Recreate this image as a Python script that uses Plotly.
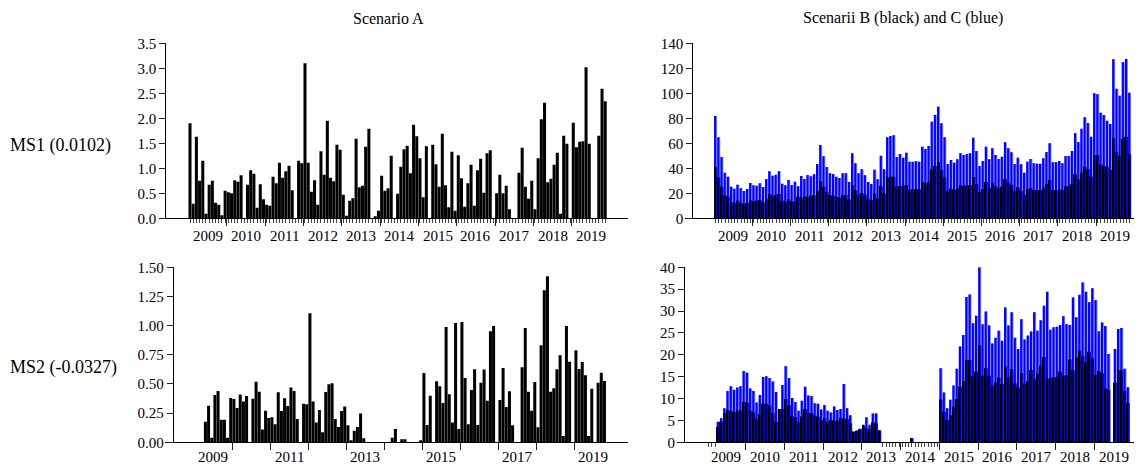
import plotly.graph_objects as go

# ---------------- data (monthly, Jan 2009 .. Nov 2019, index 0..130) ----------------
years = list(range(2009, 2020))

ms1_A = [1.90, 0.29, 1.63, 0.75, 1.15, 0.09, 0.67, 0.75, 0.31, 0.27, 0.06, 0.55,
         0.52, 0.50, 0.76, 0.73, 0.86, 0.00, 0.67, 0.96, 0.89, 0.21, 0.68, 0.38,
         0.27, 0.25, 0.83, 0.70, 1.11, 0.81, 0.94, 1.05, 0.56, 0.00, 1.15, 1.10,
         3.10, 1.11, 0.53, 0.76, 0.27, 1.34, 0.87, 1.95, 0.81, 0.74, 1.47, 1.37,
         0.47, 0.05, 0.35, 0.40, 1.59, 0.62, 0.65, 1.43, 1.79, 0.00, 0.04, 0.15,
         0.85, 0.55, 0.60, 1.25, 0.00, 0.49, 1.03, 1.38, 1.45, 0.90, 1.87, 1.64,
         1.20, 0.42, 1.44, 0.00, 1.47, 1.08, 0.63, 1.69, 0.66, 0.22, 1.33, 0.15,
         1.26, 0.80, 0.23, 0.70, 1.07, 0.25, 0.96, 1.19, 0.51, 1.30, 1.36, 0.00,
         0.50, 0.87, 0.50, 0.65, 0.18, 0.00, 0.00, 0.91, 1.41, 0.63, 0.39, 0.75,
         0.18, 1.20, 1.98, 2.31, 0.72, 0.79, 1.07, 1.31, 0.09, 1.65, 1.49, 0.00,
         1.91, 1.42, 1.53, 1.54, 3.02, 1.49, 0.00, 0.00, 1.65, 2.59, 2.34]

ms1_C = [81.9, 64.8, 49.1, 36.5, 33.3, 25.3, 23.7, 26.9, 24.0, 21.9, 23.5, 28.3,
         26.4, 26.1, 28.0, 25.1, 31.5, 37.6, 34.1, 34.9, 37.6, 27.7, 26.4, 30.7,
         26.7, 29.3, 25.6, 33.9, 31.5, 34.7, 33.6, 35.2, 43.5, 58.7, 49.6, 41.1,
         36.0, 35.5, 33.3, 32.3, 36.0, 36.0, 29.1, 52.0, 44.0, 36.0, 39.2, 34.4,
         29.1, 27.5, 38.9, 31.2, 50.1, 39.2, 64.8, 65.9, 66.4, 49.1, 51.5, 48.5,
         52.5, 45.3, 45.3, 45.6, 45.3, 57.3, 55.5, 57.9, 77.3, 82.7, 89.3, 76.0,
         64.8, 43.5, 46.7, 44.5, 47.2, 52.0, 50.7, 51.5, 52.0, 64.5, 53.9, 41.9,
         45.9, 57.3, 47.2, 56.0, 50.7, 47.5, 49.3, 60.8, 56.0, 52.8, 43.5, 48.5,
         43.2, 36.5, 45.3, 47.5, 44.0, 43.7, 43.7, 48.0, 53.1, 60.0, 44.8, 44.8,
         45.9, 44.0, 49.9, 49.9, 53.9, 68.0, 61.1, 71.7, 80.8, 76.3, 65.3, 100.0,
         99.2, 84.5, 82.7, 78.1, 75.5, 127.2, 103.7, 98.1, 124.8, 127.5, 100.5]

ms1_B = [41.3, 32.8, 25.3, 18.7, 17.3, 13.1, 12.5, 14.1, 12.5, 11.5, 12.3, 14.7,
         13.6, 14.1, 14.7, 12.8, 15.7, 19.5, 18.1, 18.7, 19.5, 14.1, 13.6, 15.2,
         13.6, 13.1, 17.3, 16.5, 17.9, 17.3, 18.1, 18.4, 22.1, 29.9, 25.3, 21.1,
         18.7, 18.1, 17.3, 16.5, 18.4, 18.7, 15.2, 26.4, 22.4, 18.9, 20.3, 18.9,
         15.7, 14.7, 20.0, 15.7, 25.6, 20.0, 32.8, 33.3, 33.3, 25.3, 25.9, 26.4,
         26.7, 22.9, 23.2, 23.2, 23.2, 29.1, 28.0, 29.1, 39.2, 41.9, 45.1, 38.7,
         32.8, 21.6, 23.7, 22.9, 24.0, 26.4, 25.9, 26.4, 26.4, 33.1, 27.5, 21.3,
         23.2, 29.1, 24.3, 28.5, 25.9, 24.3, 25.3, 31.2, 28.5, 26.9, 22.1, 24.8,
         22.1, 18.7, 23.5, 24.3, 22.7, 22.7, 22.7, 24.5, 27.5, 30.7, 22.7, 22.7,
         23.2, 22.7, 25.9, 25.9, 27.5, 35.2, 31.2, 36.5, 41.3, 39.2, 33.3, 50.7,
         50.7, 43.2, 41.9, 41.3, 38.7, 64.5, 52.8, 49.9, 63.5, 65.3, 51.2]

ms2_A = ([0.0, 0.0, 0.0] +
         [0.177, 0.314, 0.04, 0.406, 0.44, 0.194, 0.194, 0.04, 0.38, 0.371, 0.294,
          0.409, 0.349, 0.397, 0.0, 0.374, 0.52, 0.434, 0.109, 0.271, 0.209, 0.214,
          0.154, 0.429, 0.269, 0.377, 0.311, 0.469, 0.44, 0.2, 0.0, 0.331, 0.326,
          1.106, 0.349, 0.169, 0.277, 0.086, 0.431, 0.497, 0.506, 0.2, 0.131, 0.269,
          0.306, 0.146, 0.014, 0.1, 0.131, 0.246, 0.034] +
         [0.0] * 8 +
         [0.04, 0.114, 0.0, 0.026, 0.026, 0.0, 0.0, 0.0, 0.0, 0.011] +
         [0.594, 0.149, 0.4, 0.0, 0.523, 0.48, 0.337, 0.989, 0.411, 0.169,
          1.023, 0.114, 1.031, 0.551, 0.154, 0.449, 0.626, 0.149, 0.511, 0.623,
          0.357, 0.951, 0.997, 0.0, 0.363, 0.637, 0.303, 0.437, 0.146, 0.0,
          0.0, 0.643, 0.98, 0.434, 0.271, 0.517, 0.129, 0.831, 1.303, 1.423,
          0.434, 0.463, 0.626, 0.746, 0.054, 0.997, 0.691, 0.0, 0.789, 0.629,
          0.689, 0.574, 0.054, 0.46, 0.0, 0.511, 0.597, 0.526] +
         [0.0])

ms2_C = ([0.0, 0.0, 0.0] +
         [4.7, 5.5, 7.8, 11.7, 12.8, 12.0, 12.5, 12.8, 16.3, 15.9,
          12.3, 11.7, 9.1, 10.8, 14.9, 15.1, 14.7, 13.9, 11.5, 7.6,
          13.1, 17.4, 14.7, 10.1, 9.2, 7.2, 9.5, 12.7, 10.7, 10.6,
          8.9, 8.8, 7.5, 8.5, 7.2, 6.8, 8.2, 7.4, 7.6, 13.3,
          7.8, 6.2, 2.4, 2.7, 3.1, 4.0, 5.7, 4.0, 6.6, 6.6, 2.7] +
         [0.0] * 9 + [0.9] + [0.0] * 8 +
         [16.9, 11.4, 7.8, 9.7, 13.0, 16.8, 21.9, 24.5, 33.2, 33.8,
          27.2, 28.9, 40.0, 27.0, 29.9, 26.7, 22.6, 23.9, 25.5, 23.2,
          30.8, 26.7, 29.7, 23.9, 21.3, 28.1, 23.5, 24.4, 25.3, 29.7,
          25.5, 27.9, 31.2, 34.4, 25.7, 26.3, 26.4, 26.8, 28.8, 27.0,
          26.8, 33.1, 28.6, 33.7, 36.5, 34.4, 32.0, 35.2, 32.5, 25.4,
          27.4, 26.6, 20.2] +
         [0.0, 21.3, 25.9, 26.1, 16.8, 12.6])

ms2_B = ([0.0, 0.0, 0.0] +
         [3.5, 4.7, 6.7, 7.4, 7.2, 7.0, 7.2, 7.3, 9.2, 9.1,
          7.2, 6.9, 5.4, 6.4, 8.8, 8.8, 8.4, 6.7, 4.7, 7.6,
          7.6, 9.9, 8.5, 5.9, 5.8, 4.6, 5.9, 7.6, 6.7, 6.7,
          6.1, 5.9, 5.1, 5.5, 4.6, 5.1, 5.0, 5.0, 5.5, 5.5,
          5.3, 4.3, 2.4, 2.6, 3.0, 3.8, 3.2, 3.0, 4.5, 4.3, 2.7] +
         [0.0] * 9 + [0.9] + [0.0] * 8 +
         [9.8, 7.0, 5.1, 6.2, 8.1, 9.9, 12.7, 14.0, 18.8, 18.8,
          15.1, 16.2, 22.2, 15.2, 16.9, 15.2, 12.9, 13.7, 14.8, 13.3,
          17.4, 14.9, 16.7, 13.5, 12.5, 15.8, 13.4, 13.9, 16.5, 14.5,
          15.7, 17.5, 19.5, 14.5, 14.8, 14.8, 14.9, 16.2, 15.2, 15.4,
          18.9, 16.5, 19.4, 21.0, 19.8, 18.3, 20.7, 19.2, 15.4, 16.3,
          15.8, 12.3, 12.0] +
         [0.0, 13.6, 16.5, 16.5, 11.7, 9.0])

months = list(range(len(ms1_A)))

yt_tl = [0, 0.5, 1.0, 1.5, 2.0, 2.5, 3.0, 3.5]
yt_tr = [0, 20, 40, 60, 80, 100, 120, 140]
yt_bl = [0, 0.25, 0.5, 0.75, 1.0, 1.25, 1.5]
yt_br = [0, 5, 10, 15, 20, 25, 30, 35, 40]

# ---------------- layout helpers (pixel geometry) ----------------
# the page body has an 8px margin, so the figure is laid out 8px up/left
OFF = 8
W, H = 1142 - OFF, 466 - OFF
FONT = "Liberation Serif, Times New Roman, serif"


def fx(p):
    return (p - OFF) / W


def fy(p):
    return 1 - (p - OFF) / H


panels = [
    dict(ax="", xl=159, xr=628, yax=165.3, yt=43.3, yb=218.3, c0=190.0, p=3.194,
         yr=[0, 3.5], tv=yt_tl, fmt="{:.1f}", lab=years, minor=months, lab_y=236),
    dict(ax="2", xl=685, xr=1141, yax=692.3, yt=43.3, yb=218.3, c0=715.6, p=3.185,
         yr=[0, 140], tv=yt_tr, fmt="{:d}", lab=years, minor=months, lab_y=236),
    dict(ax="3", xl=165, xr=628, yax=172.7, yt=267.3, yb=442.3, c0=195.9, p=3.167,
         yr=[0, 1.5], tv=yt_bl, fmt="{:.2f}", lab=years[::2], minor=[], lab_y=457),
    dict(ax="4", xl=677, xr=1141, yax=684.0, yt=267.3, yb=442.3, c0=708.6, p=3.228,
         yr=[0, 40], tv=yt_br, fmt="{:d}", lab=years,
         minor=[0, 1, 2] + list(range(54, 72)), lab_y=457),
]

fig = go.Figure()

# left column: scenario A
for pan, vals in ((panels[0], ms1_A), (panels[2], ms2_A)):
    fig.add_trace(go.Bar(x=months, y=vals, width=0.95, marker_color="black",
                         marker_line_width=0, xaxis="x" + pan["ax"], yaxis="y" + pan["ax"]))

# right column: scenarii B (black) and C (blue)
for pan, c_vals, b_vals in ((panels[1], ms1_C, ms1_B), (panels[3], ms2_C, ms2_B)):
    xa, ya = "x" + pan["ax"], "y" + pan["ax"]
    fig.add_trace(go.Bar(x=months, y=c_vals, width=0.95, offset=-0.475,
                         marker_color="#8c8cff", marker_line_width=0, xaxis=xa, yaxis=ya))
    fig.add_trace(go.Bar(x=months, y=b_vals, width=0.95, offset=-0.475,
                         marker_color="#0000ff", marker_line_width=0, xaxis=xa, yaxis=ya))
    fig.add_trace(go.Bar(x=months, y=c_vals, width=0.66, offset=-0.475,
                         marker_color="#0000ff", marker_line_width=0, xaxis=xa, yaxis=ya))
    fig.add_trace(go.Bar(x=months, y=b_vals, width=0.48, offset=-0.475,
                         marker_color="#000000", marker_line_width=0, xaxis=xa, yaxis=ya))

layout = dict(
    width=W, height=H, margin=dict(l=0, r=0, t=0, b=0, pad=0), autosize=False,
    paper_bgcolor="white", plot_bgcolor="white",
    barmode="overlay", showlegend=False,
    font=dict(family=FONT, size=15, color="black"),
)

annotations = []
for pan in panels:
    xmin = (pan["xl"] - pan["c0"]) / pan["p"]
    xmax = (pan["xr"] - pan["c0"]) / pan["p"]
    major = [11.5 + 12 * j for j in range(10)]
    layout["xaxis" + pan["ax"]] = dict(
        domain=[fx(pan["xl"]), fx(pan["xr"])], anchor="y" + pan["ax"],
        range=[xmin, xmax], automargin=False, showline=True, linecolor="black", linewidth=1,
        ticks="outside", tickmode="array", tickvals=major, ticklen=7, tickwidth=1,
        tickcolor="#222", showticklabels=False, showgrid=False, zeroline=False,
        minor=dict(tickmode="array", tickvals=pan["minor"], ticks="outside", ticklen=4,
                   tickwidth=1, tickcolor="#444", showgrid=False),
    )
    layout["yaxis" + pan["ax"]] = dict(
        domain=[fy(pan["yb"]), fy(pan["yt"])], anchor="free", position=fx(pan["yax"]),
        range=pan["yr"], automargin=False, showline=True, linecolor="black", linewidth=1,
        ticks="outside", tickmode="array", tickvals=pan["tv"],
        ticktext=[pan["fmt"].format(v) for v in pan["tv"]],
        ticklen=6, tickwidth=1, tickcolor="#222", showgrid=False, zeroline=False,
        tickfont=dict(family=FONT, size=15, color="black"),
    )
    for yv in pan["lab"]:
        annotations.append(dict(
            x=5.5 + 12 * (yv - 2009), xref="x" + pan["ax"], y=fy(pan["lab_y"]), yref="paper",
            text=str(yv), showarrow=False, xanchor="center", yanchor="middle",
            font=dict(family=FONT, size=15, color="black")))

for txt, x, y, anchor, size in (("Scenario A", 388, 18, "center", 16),
                                ("Scenarii B (black) and C (blue)", 903, 18, "center", 16),
                                ("MS1 (0.0102)", 8, 145, "left", 18),
                                ("MS2 (-0.0327)", 8, 367, "left", 18)):
    annotations.append(dict(x=fx(x), y=fy(y), xref="paper", yref="paper", text=txt,
                            showarrow=False, xanchor=anchor, yanchor="middle",
                            font=dict(family=FONT, size=size, color="black")))

layout["annotations"] = annotations
fig.update_layout(**layout)
fig.write_html("out.html")
